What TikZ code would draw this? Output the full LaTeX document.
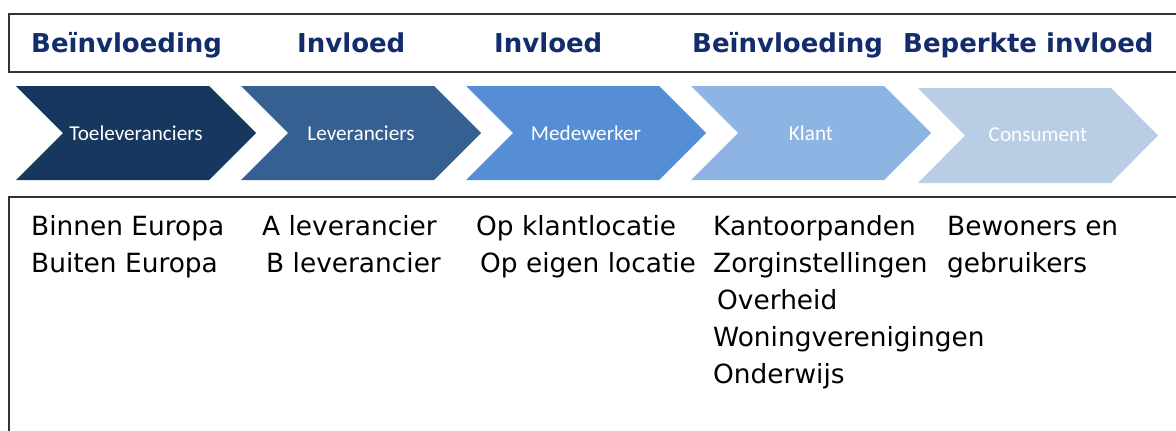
\documentclass[tikz,border=0pt]{standalone}
\usepackage{fontspec}
\setmainfont{DejaVu Sans}
\newfontfamily\chevfont{Carlito}
\definecolor{cA}{HTML}{17375E}
\definecolor{cB}{HTML}{376092}
\definecolor{cC}{HTML}{558ED5}
\definecolor{cD}{HTML}{8EB4E3}
\definecolor{cE}{HTML}{B9CDE5}
\definecolor{head}{HTML}{132C6C}
\definecolor{frame}{HTML}{333333}
\begin{document}
\begin{tikzpicture}[x=1pt,y=-1pt,
  heading/.style={font=\fontsize{26}{30}\selectfont\bfseries, text=head, inner sep=0pt, anchor=base west},
  body/.style={font=\fontsize{26.4}{30}\selectfont, text=black, inner sep=0pt, anchor=base west},
  chevlabel/.style={font=\chevfont\fontsize{21.2}{25}\selectfont, text=white, inner sep=0pt},
  boxline/.style={draw=frame, line width=1.6pt}]
\useasboundingbox (0,0) rectangle (1176,431);
% frames
\draw[boxline] (1176,14) -- (9,14) -- (9,72) -- (1176,72);
\draw[boxline] (1176,197) -- (9,197) -- (9,431);
% headings
\node[heading] (h1) at (31,52) {Beïnvloeding};
\node[heading] (h2) at (297,52) {Invloed};
\node[heading] (h3) at (494,52) {Invloed};
\node[heading] (h4) at (692,52) {Beïnvloeding};
\node[heading] (h5) at (903,52) {Beperkte invloed};
% chevrons
\newcommand{\chev}[5]{% x, ytop, ybot, colour, name/label
  \fill[#4] (#1,#2) -- ++(193,0) -- (#1+240,{(#2+#3)/2}) -- (#1+193,#3) -- (#1,#3) -- (#1+47,{(#2+#3)/2}) -- cycle;
}
\chev{16}{86}{180}{cA}{}
\chev{241}{86}{180}{cB}{}
\chev{466}{86}{180}{cC}{}
\chev{691}{86}{180}{cD}{}
\chev{918}{88}{183}{cE}{}
\node[chevlabel] (c1) at (136,133) {Toeleveranciers};
\node[chevlabel] (c2) at (361,133) {Leveranciers};
\node[chevlabel] (c3) at (586,133) {Medewerker};
\node[chevlabel] (c4) at (811,133) {Klant};
\node[chevlabel] (c5) at (1038,135) {Consument};
% body texts
\node[body] (b11) at (31,235) {Binnen Europa};
\node[body] (b12) at (31,272) {Buiten Europa};
\node[body] (b21) at (262,235) {A leverancier};
\node[body] (b22) at (266,272) {B leverancier};
\node[body] (b31) at (476,235) {Op klantlocatie};
\node[body] (b32) at (480,272) {Op eigen locatie};
\node[body] (b41) at (713,235) {Kantoorpanden};
\node[body] (b42) at (713,272) {Zorginstellingen};
\node[body] (b43) at (717,309) {Overheid};
\node[body] (b44) at (713,346) {Woningverenigingen};
\node[body] (b45) at (713,383) {Onderwijs};
\node[body] (b51) at (947,235) {Bewoners en};
\node[body] (b52) at (947,272) {gebruikers};
\end{tikzpicture}
\end{document}
